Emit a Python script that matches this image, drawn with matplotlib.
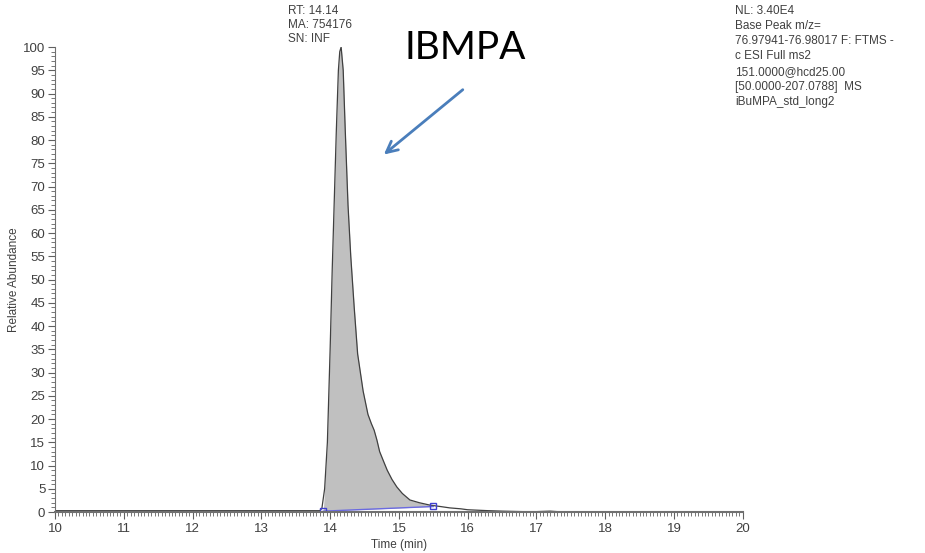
import numpy as np
import matplotlib.pyplot as plt
from matplotlib.ticker import MultipleLocator

# chromatogram trace
rt_min = [10.0, 11.0, 12.0, 13.0, 13.6, 13.85, 13.88, 13.92, 13.96, 14.0, 14.03, 14.06,
          14.09, 14.12, 14.14, 14.16, 14.19, 14.22, 14.26, 14.3, 14.35, 14.4, 14.48,
          14.55, 14.6, 14.64, 14.68, 14.72, 14.78, 14.83, 14.9, 14.97, 15.05, 15.16,
          15.3, 15.45, 15.6, 15.74, 15.9, 16.0, 16.15, 16.3, 16.5, 16.8, 17.0, 17.2,
          17.3, 17.5, 18.0, 19.0, 20.0]
rel_abund = [0.3, 0.3, 0.3, 0.3, 0.3, 0.3, 0.8, 5.0, 15.0, 35.0, 52.0, 67.0,
             82.0, 95.0, 99.0, 100.0, 95.0, 82.0, 66.0, 55.0, 44.0, 34.0, 26.0,
             21.0, 19.0, 17.6, 15.5, 13.0, 10.8, 9.0, 7.0, 5.4, 4.0, 2.6,
             2.0, 1.5, 1.2, 0.9, 0.7, 0.5, 0.4, 0.3, 0.2, 0.1, 0.1, 0.2,
             0.1, 0.0, 0.0, 0.0, 0.0]

# integration baseline (start / end markers)
base_t = [13.9, 15.5]
base_y = [0.2, 1.2]

y_ticks = list(range(0, 101, 5))
x_ticks = list(range(10, 21))

plt.rcParams['font.family'] = ['Liberation Sans', 'DejaVu Sans']

fig = plt.figure(figsize=(9.25, 5.53), dpi=100)
ax = fig.add_axes([0.0595, 0.074, 0.7435, 0.841])

t = np.array(rt_min)
y = np.array(rel_abund)

# fill between baseline and trace
m = (t >= base_t[0]) & (t <= base_t[1])
tf = np.concatenate([[base_t[0]], t[m], [base_t[1]]])
yf = np.concatenate([[base_y[0]], y[m], [base_y[1]]])
bl = np.interp(tf, base_t, base_y)
ax.fill_between(tf, bl, yf, color='#c0c0c0', lw=0)

ax.plot(t, y, color='#404040', lw=0.9)
ax.plot(base_t, base_y, color='#6a6ae0', lw=1.0)
ax.plot(base_t, base_y, ls='none', marker='s', ms=5, mfc='none', mec='#4040d0', mew=1)

ax.set_xlim(10, 20)
ax.set_ylim(0, 100)
ax.set_xticks(x_ticks)
ax.set_yticks(y_ticks)
ax.xaxis.set_minor_locator(MultipleLocator(0.05))
ax.yaxis.set_minor_locator(MultipleLocator(1))
ax.tick_params(axis='both', which='major', labelsize=9.5, color='#606060', labelcolor='#404040',
               length=5, width=0.8)
ax.tick_params(axis='both', which='minor', color='#606060', length=3, width=0.6)
ax.tick_params(axis='x', pad=3)
ax.tick_params(axis='y', pad=2)
for s in ['top', 'right']:
    ax.spines[s].set_visible(False)
for s in ['left', 'bottom']:
    ax.spines[s].set_color('#707070')
ax.spines['bottom'].set_linewidth(1.5)

ax.set_xlabel('Time (min)', fontsize=8.5, color='#404040', labelpad=3)
ax.set_ylabel('Relative Abundance', fontsize=8.5, color='#404040', labelpad=2)

fig.text(288 / 925, 1 - 5 / 553, 'RT: 14.14\nMA: 754176\nSN: INF', fontsize=8.5,
         va='top', ha='left', color='#404040', linespacing=1.2)
fig.text(735 / 925, 1 - 5 / 553,
         'NL: 3.40E4\nBase Peak m/z=\n76.97941-76.98017 F: FTMS -\nc ESI Full ms2\n'
         '151.0000@hcd25.00\n[50.0000-207.0788]  MS\niBuMPA_std_long2',
         fontsize=8.5, va='top', ha='left', color='#404040', linespacing=1.35)
fig.text(465 / 925, 1 - 48 / 553, 'IBMPA', fontsize=28, family=['Lato', 'DejaVu Sans'],
         ha='center', va='center', color='black')

ax.annotate('', xy=(14.75, 76.5), xytext=(15.96, 91.2), annotation_clip=False,
            arrowprops=dict(arrowstyle='->', color='#4a7ebb', lw=2, mutation_scale=20))

fig.savefig('out.png', dpi=100)
